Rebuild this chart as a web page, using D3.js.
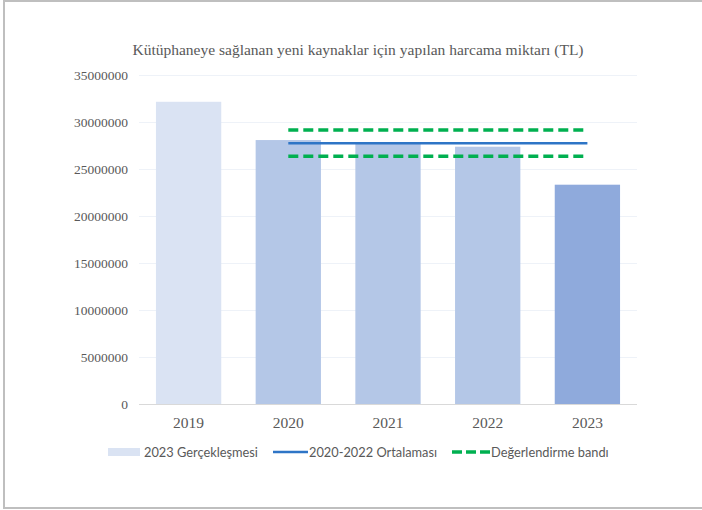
<!DOCTYPE html>
<html>
<head>
<meta charset="utf-8">
<script src="https://cdn.jsdelivr.net/npm/d3@7"></script>
<style>
  body { margin: 0; background: #fff; }
  svg { display: block; }
</style>
</head>
<body>
<svg id="chart"></svg>
<script>
// values
const years = ["2019", "2020", "2021", "2022", "2023"];
const spending = [32150000, 28080000, 27800000, 27370000, 23330000];
const yTicks = [0, 5000000, 10000000, 15000000, 20000000, 25000000, 30000000, 35000000];
const avgYears = ["2020", "2021", "2022"];
const legendLabels = ["2023 Gerçekleşmesi", "2020-2022 Ortalaması", "Değerlendirme bandı"];

const W = 702, H = 510;
const margin = { top: 75, right: 65, bottom: 106, left: 139 };
const serif = "'Liberation Serif', 'Times New Roman', serif";

const svg = d3.select("#chart").attr("width", W).attr("height", H);

// frame
svg.append("path")
  .attr("d", "M" + (W + 5) + ",1 H4 V508 H" + (W + 5))
  .attr("fill", "none")
  .attr("stroke", "#bfbfbf")
  .attr("stroke-width", 2);

svg.append("text")
  .attr("x", 358)
  .attr("y", 55)
  .attr("text-anchor", "middle")
  .style("font-family", serif)
  .style("font-size", "15.5px")
  .attr("fill", "#595959")
  .text("Kütüphaneye sağlanan yeni kaynaklar için yapılan harcama miktarı (TL)");

const x = d3.scaleBand()
  .domain(years)
  .range([margin.left, W - margin.right])
  .paddingInner(0.345)
  .paddingOuter(0.17);

const y = d3.scaleLinear()
  .domain([0, 35000000])
  .range([H - margin.bottom, margin.top]);

// grid
svg.append("g")
  .selectAll("line")
  .data(yTicks.slice(1))
  .enter().append("line")
  .attr("x1", margin.left)
  .attr("x2", W - margin.right)
  .attr("y1", d => Math.round(y(d)) + 0.5)
  .attr("y2", d => Math.round(y(d)) + 0.5)
  .attr("stroke", "#eef2f8")
  .attr("stroke-width", 1);

// y axis labels
const yAxis = svg.append("g")
  .attr("transform", "translate(" + (margin.left - 11) + ",0)")
  .call(d3.axisLeft(y).tickValues(yTicks).tickSize(0).tickPadding(0).tickFormat(d3.format("d")));
yAxis.select(".domain").remove();
yAxis.selectAll("text")
  .style("font-family", serif)
  .style("font-size", "13.5px")
  .attr("fill", "#595959");

// bars
function barFill(i) {
  if (i === 0) return "#dae3f3";
  if (i === years.length - 1) return "#8faadc";
  return "#b4c7e7";
}

svg.selectAll(".bar")
  .data(years)
  .enter().append("rect")
  .attr("class", "bar")
  .attr("x", d => x(d))
  .attr("y", (d, i) => y(spending[i]))
  .attr("width", x.bandwidth())
  .attr("height", (d, i) => y(0) - y(spending[i]))
  .attr("fill", (d, i) => barFill(i));

// baseline
svg.append("line")
  .attr("x1", margin.left)
  .attr("x2", W - margin.right)
  .attr("y1", Math.round(y(0)) + 0.5)
  .attr("y2", Math.round(y(0)) + 0.5)
  .attr("stroke", "#d9d9d9");

// x axis labels
const xAxis = svg.append("g")
  .attr("transform", "translate(0," + y(0) + ")")
  .call(d3.axisBottom(x).tickSize(0).tickPadding(13));
xAxis.select(".domain").remove();
xAxis.selectAll("text")
  .style("font-family", serif)
  .style("font-size", "15.5px")
  .attr("fill", "#595959");

// average of 2020-2022 and +/-5% band
const avg = d3.mean(avgYears, d => spending[years.indexOf(d)]);
const bandHi = avg * 1.05;
const bandLo = avg * 0.95;
const lineX1 = x("2020") + x.bandwidth() / 2;
const lineX2 = x("2023") + x.bandwidth() / 2;

svg.selectAll(".band")
  .data([bandHi, bandLo])
  .enter().append("line")
  .attr("class", "band")
  .attr("x1", lineX1)
  .attr("x2", lineX2 - 4)
  .attr("y1", d => y(d))
  .attr("y2", d => y(d))
  .attr("stroke", "#00b050")
  .attr("stroke-width", 3.5)
  .attr("stroke-dasharray", "10,5");

svg.append("line")
  .attr("x1", lineX1)
  .attr("x2", lineX2)
  .attr("y1", y(avg))
  .attr("y2", y(avg))
  .attr("stroke", "#2e75c6")
  .attr("stroke-width", 2.5);

// legend
const legY = 452;
const legFont = "Lato, 'Open Sans', sans-serif";
const leg = svg.append("g").attr("class", "legend");

leg.append("rect")
  .attr("x", 108).attr("y", legY - 4)
  .attr("width", 32).attr("height", 8)
  .attr("fill", "#dae3f3");
leg.append("line")
  .attr("x1", 273).attr("x2", 308)
  .attr("y1", legY).attr("y2", legY)
  .attr("stroke", "#2e75c6").attr("stroke-width", 2.5);
leg.append("line")
  .attr("x1", 452).attr("x2", 490)
  .attr("y1", legY).attr("y2", legY)
  .attr("stroke", "#00b050").attr("stroke-width", 3.5)
  .attr("stroke-dasharray", "10,4");

leg.selectAll("text")
  .data(legendLabels)
  .enter().append("text")
  .attr("x", (d, i) => [144, 309, 491][i])
  .attr("y", legY + 4.5)
  .style("font-family", legFont)
  .style("font-size", "12.8px")
  .attr("fill", "#595959")
  .text(d => d);
</script>
</body>
</html>
